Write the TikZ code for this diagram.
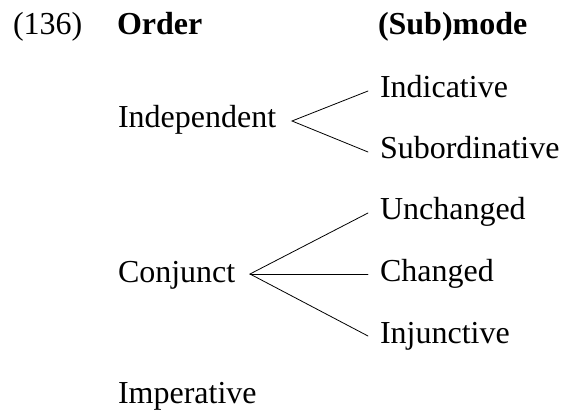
\documentclass[tikz,border=0pt]{standalone}
\usepackage{fontspec}
\setmainfont{Liberation Serif}
\usetikzlibrary{calc}
\begin{document}
\begin{tikzpicture}[x=1pt,y=1pt,
  lbl/.style={anchor=base west,inner sep=0pt,outer sep=0pt,font=\fontsize{32}{37}\selectfont},
  hdr/.style={lbl,font=\fontsize{32}{37}\selectfont\bfseries},
  branch/.style={line width=0.8pt,line cap=round}]
  \useasboundingbox (0,0) rectangle (562,410);
  % header row
  \node[lbl] (ex) at (13,375) {(136)};
  \node[hdr] (order) at (117,375) {Order};
  \node[hdr] (submode) at (378,375) {(Sub)mode};
  % orders
  \node[lbl] (indep) at (118,282) {Independent};
  \node[lbl] (conj) at (118,128) {Conjunct};
  \node[lbl] (imper) at (118,7) {Imperative};
  % submodes
  \node[lbl] (indic) at (380,312) {Indicative};
  \node[lbl] (subord) at (380,251) {Subordinative};
  \node[lbl] (unch) at (380,190) {Unchanged};
  \node[lbl] (chg) at (380,129) {Changed};
  \node[lbl] (inj) at (380,67) {Injunctive};
  % branching points
  \coordinate (vindep) at (292,289);
  \coordinate (vconj) at (250,136);
  \draw[branch] ($(indic.base west)+(-12,7)$) -- (vindep) -- ($(subord.base west)+(-12,7)$);
  \draw[branch] ($(unch.base west)+(-12,7)$) -- (vconj) -- ($(inj.base west)+(-12,7)$);
  \draw[branch] (vconj) -- ($(chg.base west)+(-12,7)$);
\end{tikzpicture}
\end{document}
